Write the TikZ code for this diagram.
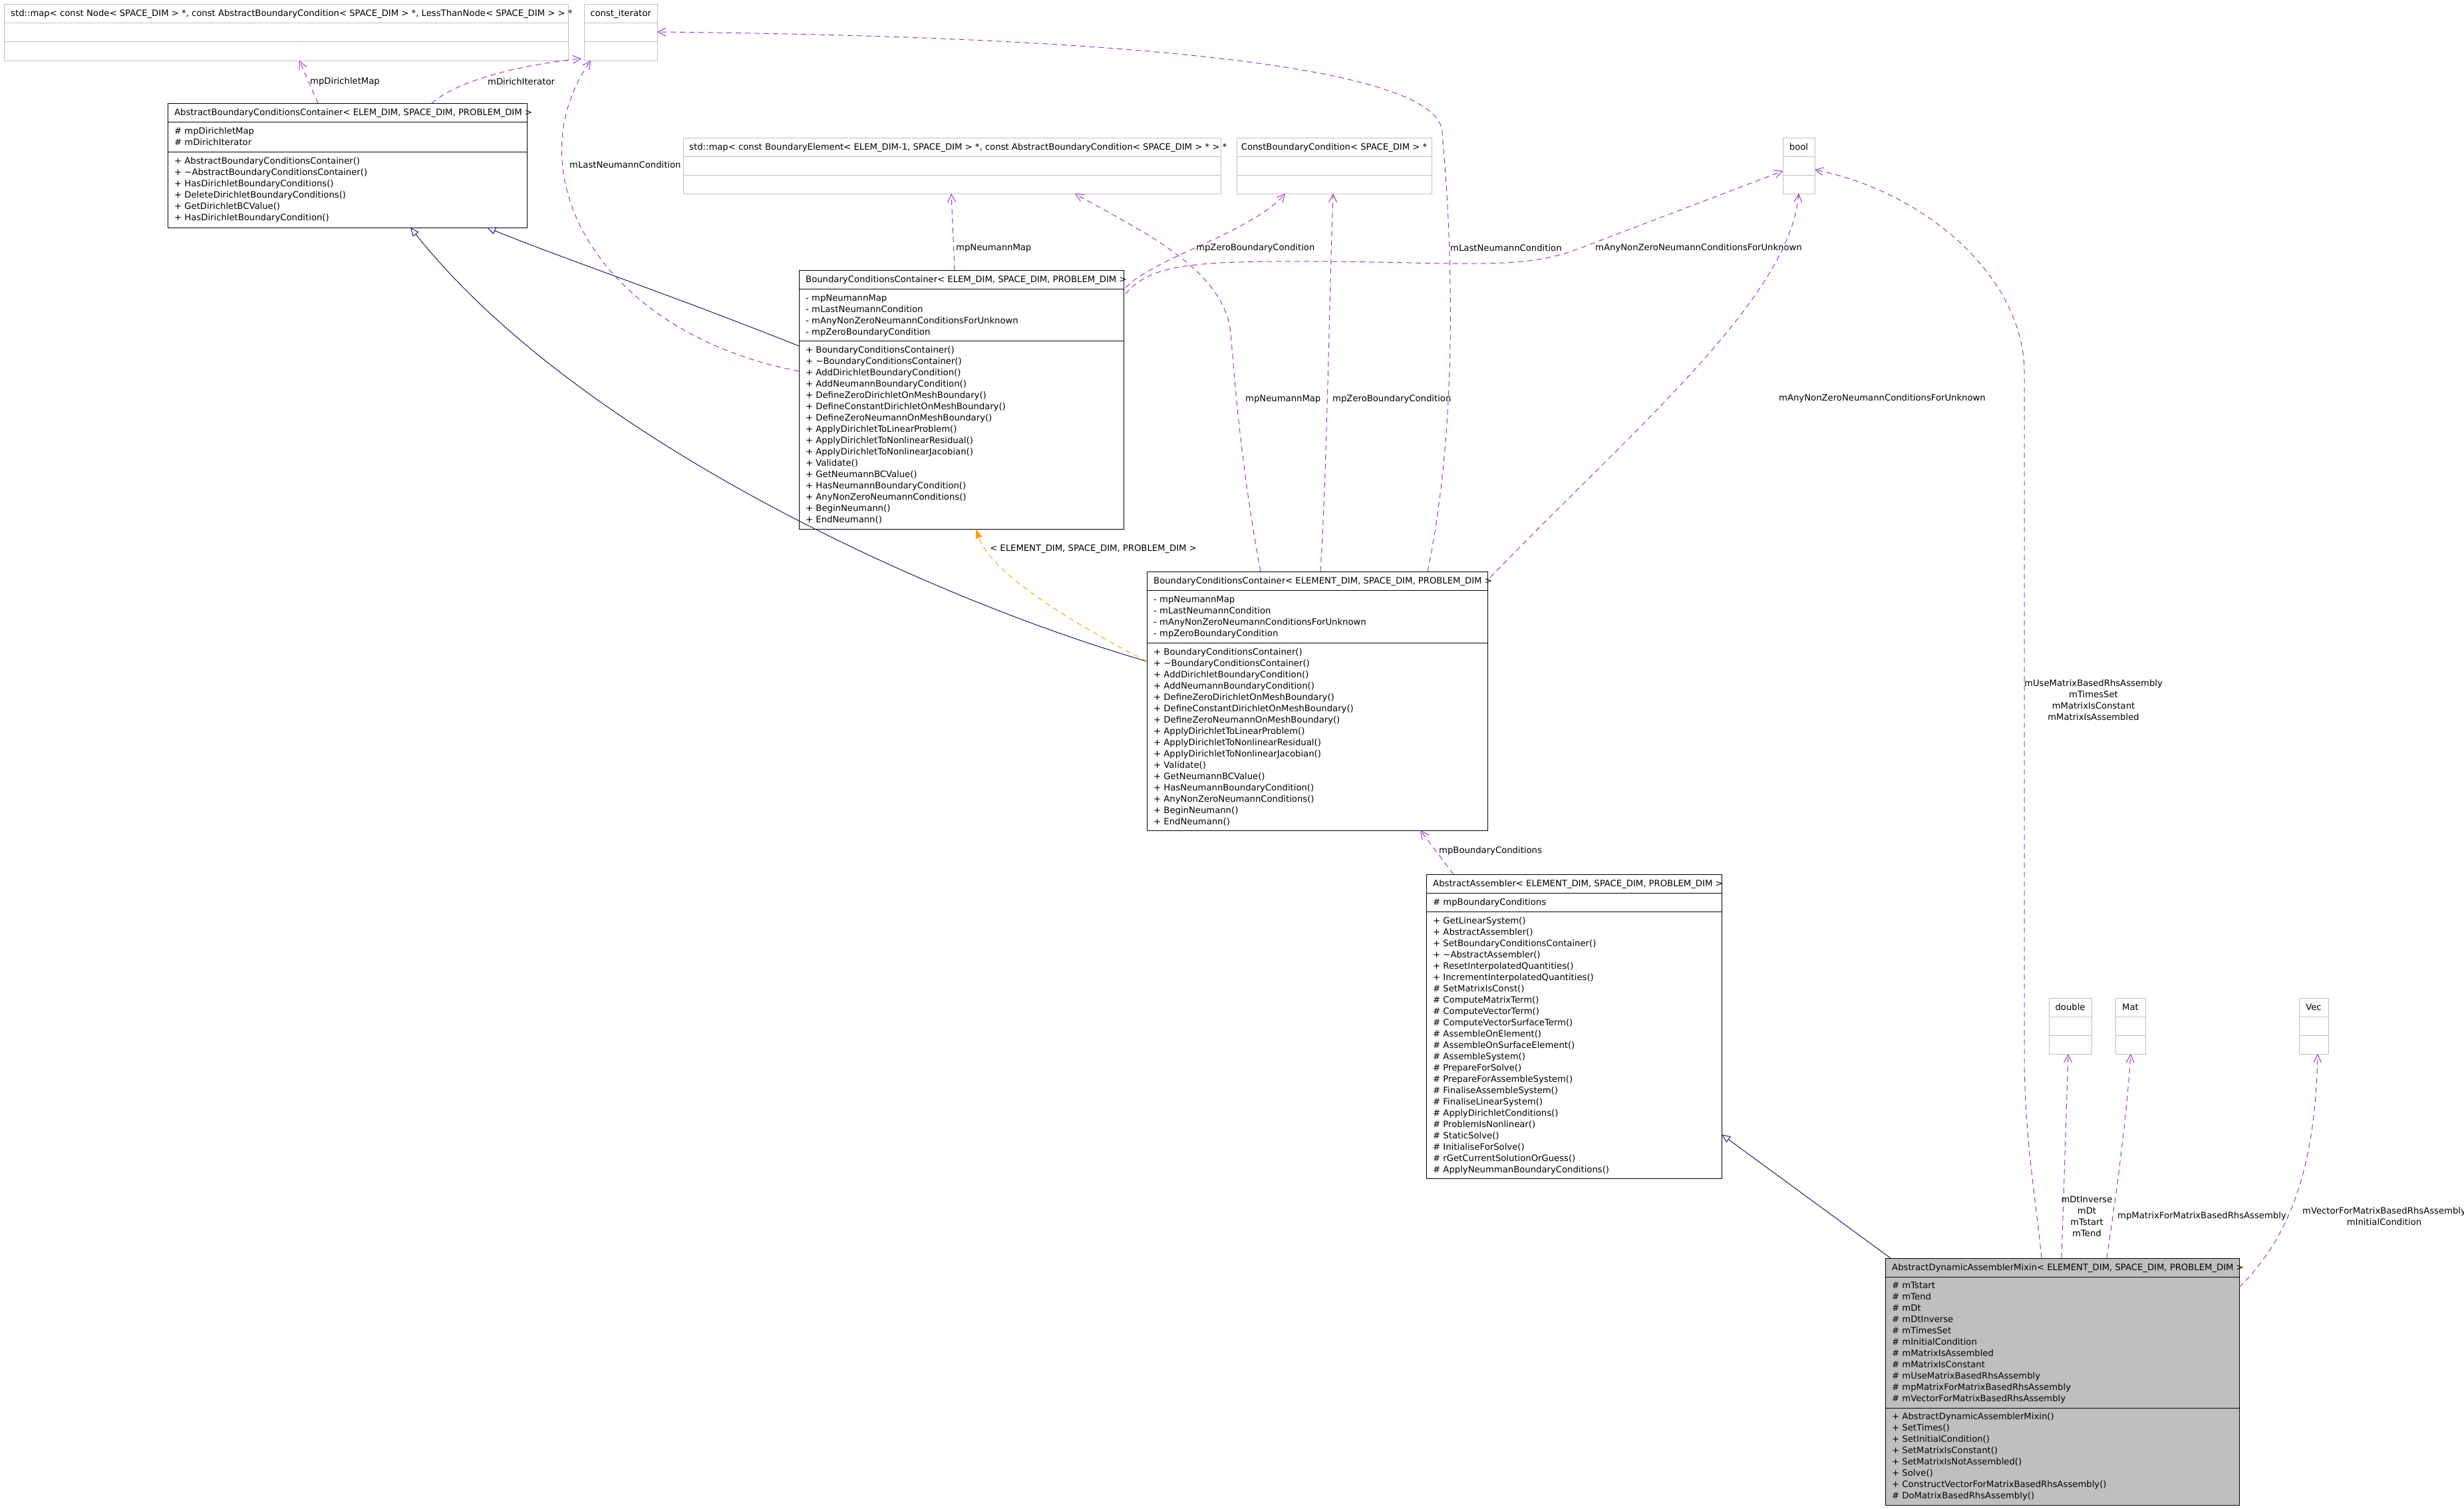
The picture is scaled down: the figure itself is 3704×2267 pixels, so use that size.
\documentclass[tikz,border=0pt]{standalone}
\usepackage{fontspec}
\setmainfont{DejaVu Sans}
\usetikzlibrary{arrows.meta,calc}

\definecolor{usepurple}{RGB}{154,50,205}
\definecolor{inheritblue}{RGB}{25,25,112}
\definecolor{templorange}{RGB}{255,165,0}
\definecolor{extgray}{RGB}{191,191,191}

\newcommand{\bccmethods}{+ BoundaryConditionsContainer(), + \textasciitilde BoundaryConditionsContainer(),
  + AddDirichletBoundaryCondition(), + AddNeumannBoundaryCondition(), + DefineZeroDirichletOnMeshBoundary(),
  + DefineConstantDirichletOnMeshBoundary(), + DefineZeroNeumannOnMeshBoundary(), + ApplyDirichletToLinearProblem(),
  + ApplyDirichletToNonlinearResidual(), + ApplyDirichletToNonlinearJacobian(), + Validate(), + GetNeumannBCValue(),
  + HasNeumannBoundaryCondition(), + AnyNonZeroNeumannConditions(), + BeginNeumann(), + EndNeumann()}
\newcommand{\bccattrs}{- mpNeumannMap, - mLastNeumannCondition, - mAnyNonZeroNeumannConditionsForUnknown, - mpZeroBoundaryCondition}

\tikzset{
  classbox/.style={draw=black, line width=1pt, rectangle, inner sep=0pt, outer sep=0pt, anchor=north west},
  extbox/.style={draw=extgray, line width=1pt, rectangle, inner sep=0pt, outer sep=0pt, anchor=north west},
  member/.style={anchor=base west, inner sep=0pt, font=\fontsize{13.2}{17}\selectfont},
  typename/.style={anchor=base, inner sep=0pt, font=\fontsize{13.2}{17}\selectfont},
  edgelabel/.style={anchor=west, inner sep=0pt, font=\fontsize{13.2}{17}\selectfont},
  multilabel/.style={align=center, inner sep=0pt, font=\fontsize{13.2}{17}\selectfont},
  usage/.style={draw=usepurple, line width=1pt, dash pattern=on 8pt off 6pt,
    -{Straight Barb[length=12pt,width=12pt]}},
  inherit/.style={draw=inheritblue, line width=1pt, -{Triangle[open,length=13pt,width=11pt,fill=white]}},
  templ/.style={draw=templorange, line width=1pt, dash pattern=on 8pt off 6pt,
    -{Triangle[length=14pt,width=10pt]}}
}

\begin{document}
\begin{tikzpicture}[x=1pt, y=-1pt]
  \useasboundingbox (0,0) rectangle (3704,2267);

  % External types
  \node[extbox, minimum width=848pt, minimum height=84pt] (mapnode) at (6,7) {};
  \node[extbox, minimum width=110pt, minimum height=84pt] (constit) at (878,7) {};
  \node[extbox, minimum width=808pt, minimum height=84pt] (mapbe) at (1027,207) {};
  \node[extbox, minimum width=293pt, minimum height=84pt] (constbc) at (1859,207) {};
  \node[extbox, minimum width=48pt, minimum height=84pt] (bool) at (2680,207) {};
  \node[extbox, minimum width=64pt, minimum height=84pt] (double) at (3080,1500) {};
  \node[extbox, minimum width=45pt, minimum height=84pt] (mat) at (3180,1500) {};
  \node[extbox, minimum width=44pt, minimum height=84pt] (vec) at (3456,1500) {};
  \foreach \b in {mapnode, constit, mapbe, constbc, bool, double, mat, vec} {
    \draw[extgray, line width=1pt] ($(\b.north west)+(0,28)$) -- ($(\b.north east)+(0,28)$);
    \draw[extgray, line width=1pt] ($(\b.north west)+(0,56)$) -- ($(\b.north east)+(0,56)$);
  }
  \node[member] (mapnodeT) at ($(mapnode.north west)+(10,18)$)
    {std::map< const Node< SPACE\_DIM > *, const AbstractBoundaryCondition< SPACE\_DIM > *, LessThanNode< SPACE\_DIM > > *};
  \node[typename] (constitT) at ($(constit.north)+(0,18)$) {const\_iterator};
  \node[member] (mapbeT) at ($(mapbe.north west)+(9,18)$)
    {std::map< const BoundaryElement< ELEM\_DIM-1, SPACE\_DIM > *, const AbstractBoundaryCondition< SPACE\_DIM > * > *};
  \node[typename] (constbcT) at ($(constbc.north)+(0,18)$) {ConstBoundaryCondition< SPACE\_DIM > *};
  \node[typename] (boolT) at ($(bool.north)+(0,18)$) {bool};
  \node[typename] (doubleT) at ($(double.north)+(0,18)$) {double};
  \node[typename] (matT) at ($(mat.north)+(0,18)$) {Mat};
  \node[typename] (vecT) at ($(vec.north)+(0,18)$) {Vec};

  % AbstractBoundaryConditionsContainer
  \node[classbox, minimum width=540pt, minimum height=187pt] (abcc) at (252,155) {};
  \draw[line width=1pt] ($(abcc.north west)+(0,28)$) -- ($(abcc.north east)+(0,28)$);
  \draw[line width=1pt] ($(abcc.north west)+(0,73)$) -- ($(abcc.north east)+(0,73)$);
  \node[member] (abccT) at ($(abcc.north west)+(10,18)$)
    {AbstractBoundaryConditionsContainer< ELEM\_DIM, SPACE\_DIM, PROBLEM\_DIM >};
  \foreach \m [count=\k from 0] in {\# mpDirichletMap, \# mDirichIterator}
    \node[member] at ($(abcc.north west)+(10,46+17*\k)$) {\m};
  \foreach \m [count=\k from 0] in {+ AbstractBoundaryConditionsContainer(),
      + \textasciitilde AbstractBoundaryConditionsContainer(), + HasDirichletBoundaryConditions(),
      + DeleteDirichletBoundaryConditions(), + GetDirichletBCValue(), + HasDirichletBoundaryCondition()}
    \node[member] at ($(abcc.north west)+(10,91+17*\k)$) {\m};

  % BoundaryConditionsContainer (ELEM_DIM)
  \node[classbox, minimum width=488pt, minimum height=389pt] (bccelem) at (1201,406) {};
  \draw[line width=1pt] ($(bccelem.north west)+(0,28)$) -- ($(bccelem.north east)+(0,28)$);
  \draw[line width=1pt] ($(bccelem.north west)+(0,106)$) -- ($(bccelem.north east)+(0,106)$);
  \node[member] (bccelemT) at ($(bccelem.north west)+(10,18)$)
    {BoundaryConditionsContainer< ELEM\_DIM, SPACE\_DIM, PROBLEM\_DIM >};
  \foreach \m [count=\k from 0] in \bccattrs
    \node[member] at ($(bccelem.north west)+(10,46+17*\k)$) {\m};
  \foreach \m [count=\k from 0] in \bccmethods
    \node[member] at ($(bccelem.north west)+(10,124+17*\k)$) {\m};

  % BoundaryConditionsContainer (ELEMENT_DIM)
  \node[classbox, minimum width=512pt, minimum height=389pt] (bccelement) at (1724,859) {};
  \draw[line width=1pt] ($(bccelement.north west)+(0,28)$) -- ($(bccelement.north east)+(0,28)$);
  \draw[line width=1pt] ($(bccelement.north west)+(0,107)$) -- ($(bccelement.north east)+(0,107)$);
  \node[member] (bccelementT) at ($(bccelement.north west)+(10,18)$)
    {BoundaryConditionsContainer< ELEMENT\_DIM, SPACE\_DIM, PROBLEM\_DIM >};
  \foreach \m [count=\k from 0] in \bccattrs
    \node[member] at ($(bccelement.north west)+(10,46+17*\k)$) {\m};
  \foreach \m [count=\k from 0] in \bccmethods
    \node[member] at ($(bccelement.north west)+(10,125+17*\k)$) {\m};

  % AbstractAssembler
  \node[classbox, minimum width=444pt, minimum height=457pt] (aa) at (2144,1314) {};
  \draw[line width=1pt] ($(aa.north west)+(0,28)$) -- ($(aa.north east)+(0,28)$);
  \draw[line width=1pt] ($(aa.north west)+(0,56)$) -- ($(aa.north east)+(0,56)$);
  \node[member] (aaT) at ($(aa.north west)+(10,18)$)
    {AbstractAssembler< ELEMENT\_DIM, SPACE\_DIM, PROBLEM\_DIM >};
  \node[member] (aaA) at ($(aa.north west)+(10,46)$) {\# mpBoundaryConditions};
  \foreach \m [count=\k from 0] in {+ GetLinearSystem(), + AbstractAssembler(),
      + SetBoundaryConditionsContainer(), + \textasciitilde AbstractAssembler(),
      + ResetInterpolatedQuantities(), + IncrementInterpolatedQuantities(), \# SetMatrixIsConst(),
      \# ComputeMatrixTerm(), \# ComputeVectorTerm(), \# ComputeVectorSurfaceTerm(),
      \# AssembleOnElement(), \# AssembleOnSurfaceElement(), \# AssembleSystem(),
      \# PrepareForSolve(), \# PrepareForAssembleSystem(), \# FinaliseAssembleSystem(),
      \# FinaliseLinearSystem(), \# ApplyDirichletConditions(), \# ProblemIsNonlinear(),
      \# StaticSolve(), \# InitialiseForSolve(), \# rGetCurrentSolutionOrGuess(),
      \# ApplyNeummanBoundaryConditions()}
    \node[member] at ($(aa.north west)+(10,74+17*\k)$) {\m};

  % AbstractDynamicAssemblerMixin
  \node[classbox, fill=extgray, minimum width=532pt, minimum height=371pt] (adam) at (2834,1891) {};
  \draw[line width=1pt] ($(adam.north west)+(0,28)$) -- ($(adam.north east)+(0,28)$);
  \draw[line width=1pt] ($(adam.north west)+(0,225)$) -- ($(adam.north east)+(0,225)$);
  \node[member] (adamT) at ($(adam.north west)+(10,18)$)
    {AbstractDynamicAssemblerMixin< ELEMENT\_DIM, SPACE\_DIM, PROBLEM\_DIM >};
  \foreach \m [count=\k from 0] in {\# mTstart, \# mTend, \# mDt, \# mDtInverse, \# mTimesSet,
      \# mInitialCondition, \# mMatrixIsAssembled, \# mMatrixIsConstant,
      \# mUseMatrixBasedRhsAssembly, \# mpMatrixForMatrixBasedRhsAssembly,
      \# mVectorForMatrixBasedRhsAssembly}
    \node[member] at ($(adam.north west)+(10,45+17*\k)$) {\m};
  \foreach \m [count=\k from 0] in {+ AbstractDynamicAssemblerMixin(), + SetTimes(),
      + SetInitialCondition(), + SetMatrixIsConstant(), + SetMatrixIsNotAssembled(), + Solve(),
      + ConstructVectorForMatrixBasedRhsAssembly(), \# DoMatrixBasedRhsAssembly()}
    \node[member] at ($(adam.north west)+(10,242+17*\k)$) {\m};

  % Inheritance
  \draw[inherit] ($(bccelem.north west)+(0,114)$) .. controls (1000,440) and (850,390) .. ($(abcc.south west)+(480,0)$);
  \draw[inherit] ($(bccelement.north west)+(0,135)$) .. controls (1400,900) and (870,660) .. ($(abcc.south west)+(365,0)$);
  \draw[inherit] ($(adam.north west)+(8,0)$) -- ($(aa.north east)+(0,391)$);

  % Template instance
  \draw[templ] ($(bccelement.north west)+(0,135)$) .. controls (1600,930) and (1490,860) .. ($(bccelem.south west)+(266,0)$);
  \node[edgelabel] (lblTempl) at (1488,825) {< ELEMENT\_DIM, SPACE\_DIM, PROBLEM\_DIM >};

  % Usage
  \draw[usage] ($(abcc.north west)+(226,0)$) -- ($(mapnode.south west)+(444,0)$);
  \node[edgelabel] (lblDirMap) at (466,123) {mpDirichletMap};
  \draw[usage] ($(abcc.north west)+(397,0)$) .. controls (690,120) and (780,98) .. ($(constit.south west)+(-4,-3)$);
  \node[edgelabel] (lblDirIt) at (733,123) {mDirichIterator};
  \draw[usage] ($(bccelem.north west)+(0,152)$) .. controls (900,500) and (770,260) .. ($(constit.south west)+(10,0)$);
  \node[edgelabel] (lblLastA) at (856,248) {mLastNeumannCondition};

  \draw[usage] ($(bccelem.north west)+(234,0)$) -- ($(mapbe.south west)+(403,0)$);
  \node[edgelabel] (lblMapA) at (1437,373) {mpNeumannMap};
  \draw[usage] ($(bccelem.north east)+(3,26)$) .. controls (1740,385) and (1880,350) .. ($(constbc.south west)+(73,0)$);
  \node[edgelabel] (lblZeroA) at (1798,373) {mpZeroBoundaryCondition};
  \draw[usage] ($(bccelem.north east)+(3,36)$) .. controls (1730,395) and (1800,392) .. (2000,393)
    .. controls (2200,395) and (2290,405) .. (2370,375) -- ($(bool.north west)+(0,50)$);
  \node[edgelabel] (lblAnyA) at (2398,373) {mAnyNonZeroNeumannConditionsForUnknown};

  \draw[usage] ($(bccelement.north west)+(171,0)$) .. controls (1865,700) and (1855,560) .. (1850,500)
    .. controls (1840,400) and (1700,340) .. ($(mapbe.south west)+(589,0)$);
  \node[edgelabel] (lblMapB) at (1872,600) {mpNeumannMap};
  \draw[usage] ($(bccelement.north west)+(261,0)$) .. controls (1995,700) and (1998,450) .. ($(constbc.south west)+(145,0)$);
  \node[edgelabel] (lblZeroB) at (2003,600) {mpZeroBoundaryCondition};
  \draw[usage] ($(bccelement.north west)+(422,0)$) .. controls (2175,720) and (2182,560) .. (2180,430)
    .. controls (2178,300) and (2170,230) .. (2168,200)
    .. controls (2168,100) and (1700,55) .. ($(constit.north east)+(0,41)$);
  \node[edgelabel] (lblLastB) at (2180,373) {mLastNeumannCondition};
  \draw[usage] ($(bccelement.north east)+(4,9)$) .. controls (2450,650) and (2690,450) .. ($(bool.south west)+(24,0)$);
  \node[edgelabel] (lblAnyB) at (2674,599) {mAnyNonZeroNeumannConditionsForUnknown};

  \draw[usage] ($(aa.north west)+(41,0)$) -- ($(bccelement.south west)+(411,0)$);
  \node[edgelabel] (lblBC) at (2163,1279) {mpBoundaryConditions};

  \draw[usage] ($(adam.north west)+(235,0)$) .. controls (3060,1800) and (3045,1720) .. (3043,1600)
    -- (3043,560) .. controls (3043,420) and (2900,290) .. ($(bool.north east)+(0,48)$);
  \node[multilabel] (lblUse) at (3147,1052)
    {mUseMatrixBasedRhsAssembly\\mTimesSet\\mMatrixIsConstant\\mMatrixIsAssembled};
  \draw[usage] ($(adam.north west)+(265,0)$) -- ($(double.south west)+(29,0)$);
  \node[multilabel] (lblDouble) at (3137,1828) {mDtInverse\\mDt\\mTstart\\mTend};
  \draw[usage] ($(adam.north west)+(333,0)$) .. controls (3180,1800) and (3195,1700) .. ($(mat.south west)+(23,0)$);
  \node[edgelabel] (lblMat) at (3183,1828) {mpMatrixForMatrixBasedRhsAssembly};
  \draw[usage] ($(adam.north east)+(0,44)$) .. controls (3430,1870) and (3480,1780) .. ($(vec.south west)+(28,0)$);
  \node[multilabel] (lblVec) at (3584,1828) {mVectorForMatrixBasedRhsAssembly\\mInitialCondition};
\end{tikzpicture}
\end{document}
